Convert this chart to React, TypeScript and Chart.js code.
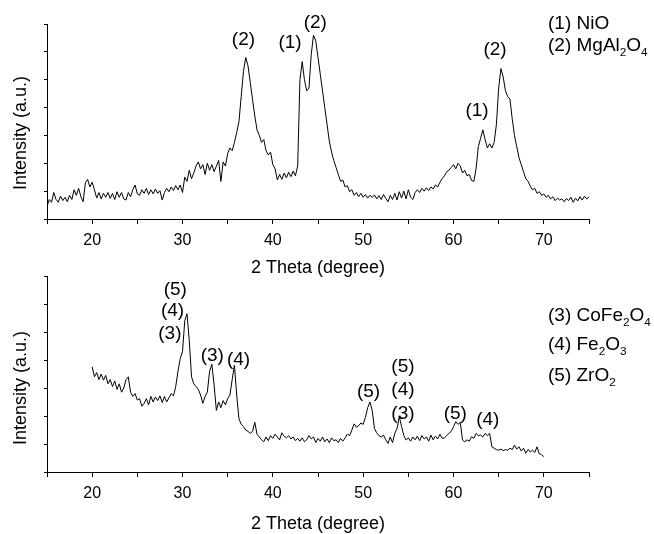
import React, { useEffect, useRef } from "react";
import { Chart, registerables } from "chart.js";
Chart.register(...registerables);

// ---------- data ----------
const topStart = 15;
const topStep = 0.25;
// rows: one per degree (x.00, x.25, x.50, x.75)
const topIntensity = [
  0.45, 0.70, 0.60, 0.95, // 15
  0.70, 0.60, 0.82, 0.66, // 16
  0.78, 0.62, 0.85, 0.70, // 17
  1.05, 0.85, 1.10, 0.80, // 18
  0.62, 1.30, 1.42, 1.15, // 19
  1.32, 1.05, 0.75, 0.95, // 20
  0.72, 0.92, 0.78, 0.95, // 21
  0.74, 0.92, 0.70, 0.98, // 22
  0.78, 0.95, 0.72, 0.68, // 23
  0.95, 0.80, 1.05, 1.22, // 24
  0.90, 0.85, 1.05, 0.92, // 25
  1.10, 0.88, 1.05, 0.90, // 26
  1.08, 0.92, 1.02, 0.68, // 27
  0.95, 1.10, 0.98, 1.15, // 28
  1.02, 1.20, 1.05, 1.22, // 29
  0.95, 1.50, 1.35, 1.75, // 30
  1.45, 1.65, 1.90, 2.05, // 31
  1.80, 1.95, 1.60, 2.00, // 32
  1.75, 1.95, 1.70, 1.90, // 33
  2.10, 1.35, 2.05, 1.90, // 34
  2.35, 2.55, 2.45, 2.75, // 35
  3.10, 3.50, 4.40, 5.30, // 36
  5.80, 5.50, 4.90, 4.30, // 37
  3.70, 3.20, 3.00, 2.75, // 38
  2.85, 2.45, 2.30, 2.40, // 39
  1.95, 1.80, 1.40, 1.60, // 40
  1.42, 1.65, 1.48, 1.68, // 41
  1.52, 1.72, 1.55, 1.90, // 42
  5.00, 5.65, 5.00, 4.60, // 43
  4.70, 5.90, 6.60, 6.40, // 44
  5.80, 5.20, 4.60, 4.00, // 45
  3.40, 2.80, 2.40, 2.10, // 46
  1.85, 1.60, 1.35, 1.40, // 47
  1.15, 1.20, 0.98, 1.05, // 48
  0.85, 0.95, 0.80, 0.92, // 49
  0.78, 0.88, 0.75, 0.85, // 50
  0.78, 0.86, 0.72, 0.84, // 51
  0.70, 0.88, 0.74, 0.62, // 52
  0.85, 0.70, 0.92, 0.68, // 53
  0.98, 0.75, 1.00, 0.72, // 54
  1.05, 0.78, 0.70, 0.95, // 55
  1.05, 0.95, 1.10, 1.00, // 56
  1.12, 1.02, 1.15, 1.08, // 57
  1.22, 1.15, 1.32, 1.45, // 58
  1.55, 1.70, 1.75, 1.85, // 59
  1.95, 1.80, 2.00, 1.90, // 60
  1.65, 1.75, 1.55, 1.60, // 61
  1.38, 1.35, 1.80, 2.60, // 62
  2.90, 3.20, 2.85, 2.55, // 63
  2.70, 2.55, 2.75, 3.40, // 64
  4.70, 5.40, 5.10, 4.60, // 65
  4.40, 4.30, 3.60, 3.00, // 66
  2.60, 2.20, 1.95, 1.70, // 67
  1.45, 1.35, 1.18, 1.05, // 68
  1.10, 0.92, 0.98, 0.85, // 69
  0.90, 0.78, 0.85, 0.72, // 70
  0.80, 0.66, 0.75, 0.68, // 71
  0.72, 0.62, 0.74, 0.66, // 72
  0.78, 0.60, 0.75, 0.65, // 73
  0.80, 0.68, 0.82, 0.72, // 74
  0.80, // 75
];

const bottomStart = 20;
const bottomStep = 0.25;
const bottomIntensity = [
  3.76, 3.40, 3.55, 3.30, // 20
  3.50, 3.28, 3.45, 3.15, // 21
  3.30, 3.05, 3.25, 2.95, // 22
  3.15, 2.85, 3.00, 3.30, // 23
  3.40, 2.85, 2.70, 2.80, // 24
  2.57, 2.62, 2.35, 2.45, // 25
  2.62, 2.40, 2.70, 2.50, // 26
  2.68, 2.55, 2.72, 2.48, // 27
  2.70, 2.50, 2.65, 2.80, // 28
  2.72, 3.05, 3.60, 4.05, // 29
  4.30, 5.40, 5.65, 4.70, // 30
  3.40, 3.15, 3.05, 2.95, // 31
  2.75, 2.45, 2.70, 2.85, // 32
  3.60, 3.85, 3.10, 2.20, // 33
  2.50, 2.30, 2.55, 2.40, // 34
  2.62, 2.75, 3.30, 3.82, // 35
  2.75, 1.90, 1.70, 1.62, // 36
  1.50, 1.45, 1.38, 1.45, // 37
  1.78, 1.35, 1.25, 1.15, // 38
  1.08, 1.25, 1.12, 1.30, // 39
  1.20, 1.35, 1.25, 1.15, // 40
  1.40, 1.28, 1.22, 1.30, // 41
  1.18, 1.25, 1.12, 1.20, // 42
  1.10, 1.22, 1.08, 1.15, // 43
  1.30, 1.18, 1.25, 1.05, // 44
  1.20, 1.10, 1.25, 1.08, // 45
  1.18, 1.05, 1.22, 1.12, // 46
  1.15, 1.05, 1.20, 1.10, // 47
  1.22, 1.35, 1.30, 1.50, // 48
  1.72, 1.60, 1.65, 1.75, // 49
  1.70, 1.95, 2.30, 2.50, // 50
  2.20, 1.55, 1.40, 1.30, // 51
  1.25, 1.32, 1.15, 1.02, // 52
  1.25, 1.05, 1.38, 1.55, // 53
  1.98, 1.62, 1.30, 1.14, // 54
  1.22, 1.10, 1.25, 1.15, // 55
  1.28, 1.12, 1.30, 1.18, // 56
  1.25, 1.10, 1.32, 1.15, // 57
  1.28, 1.18, 1.35, 1.20, // 58
  1.22, 1.30, 1.38, 1.45, // 59
  1.62, 1.80, 1.70, 1.78, // 60
  1.14, 1.08, 1.15, 1.10, // 61
  1.26, 1.20, 1.38, 1.30, // 62
  1.32, 1.25, 1.38, 1.30, // 63
  1.38, 0.90, 0.85, 0.80, // 64
  0.78, 0.82, 0.76, 0.80, // 65
  0.78, 0.85, 0.80, 0.96, // 66
  0.82, 0.90, 0.75, 0.85, // 67
  0.67, 0.80, 0.72, 0.78, // 68
  0.70, 0.90, 0.65, 0.62, // 69
  0.55, // 70
];

const xMin = 15;
const xMax = 75;
const yMin = 0;
const yMax = 7;

const topPeakText = ["(2)", "(1)", "(2)", "(1)", "(2)"];
const topPeakTheta = [36.75, 41.9, 44.7, 62.6, 64.6];
const topPeakLevel = [6.42, 6.31, 7.03, 3.9, 6.07];

const bottomPeakText = ["(5)", "(4)", "(3)", "(3)", "(4)", "(5)", "(5)", "(4)", "(3)", "(5)", "(4)"];
const bottomPeakTheta = [29.2, 28.9, 28.6, 33.3, 36.2, 50.6, 54.4, 54.4, 54.4, 60.2, 63.8];
const bottomPeakLevel = [6.52, 5.76, 4.95, 4.14, 4.0, 2.87, 3.76, 2.95, 2.07, 2.07, 1.88];

const topLegend = ["(1) NiO", "(2) MgAl{2}O{4}"];
const bottomLegend = ["(3) CoFe{2}O{4}", "(4) Fe{2}O{3}", "(5) ZrO{2}"];

const xTitle = "2 Theta (degree)";
const yTitle = "Intensity (a.u.)";

// ---------- drawing helpers ----------
const FONT = '"Liberation Sans", Arial, sans-serif';

function drawRich(ctx: CanvasRenderingContext2D, text: string, x: number, y: number, size: number) {
  const parts: { t: string; sub: boolean }[] = [];
  const re = /\{([^}]*)\}/g;
  let last = 0;
  let m: RegExpExecArray | null;
  while ((m = re.exec(text))) {
    if (m.index > last) parts.push({ t: text.slice(last, m.index), sub: false });
    parts.push({ t: m[1], sub: true });
    last = m.index + m[0].length;
  }
  if (last < text.length) parts.push({ t: text.slice(last), sub: false });
  ctx.textAlign = "left";
  ctx.textBaseline = "middle";
  let cx = x;
  for (const p of parts) {
    const s = p.sub ? size * 0.62 : size;
    ctx.font = `${s}px ${FONT}`;
    ctx.fillText(p.t, cx, p.sub ? y + size * 0.34 : y);
    cx += ctx.measureText(p.t).width;
  }
}

type Props = {
  values: number[];
  start: number;
  step: number;
  peakText: string[];
  peakTheta: number[];
  peakLevel: number[];
  legend: string[];
  legendX: number;
  legendY: number[];
  canvasTop: number;
  canvasHeight: number;
  plotTop: number;
  plotBottom: number;
  titleCenter: number;
  yTitleCenter: number;
};

function XrdPanel(p: Props) {
  const ref = useRef<HTMLCanvasElement | null>(null);
  useEffect(() => {
    if (!ref.current) return;
    const titleLH = 18 * 1.2;
    const scaleBottom = p.titleCenter + titleLH / 2;
    const xHeight = scaleBottom - p.plotBottom;
    const padBottom = p.canvasHeight - scaleBottom;
    const annot = {
      id: "annot",
      afterDraw(chart: any) {
        const ctx = chart.ctx as CanvasRenderingContext2D;
        const xs = chart.scales.x;
        const ys = chart.scales.y;
        ctx.save();
        ctx.fillStyle = "#000";
        ctx.font = `19px ${FONT}`;
        ctx.textAlign = "center";
        ctx.textBaseline = "middle";
        p.peakText.forEach((t, i) => {
          ctx.fillText(t, xs.getPixelForValue(p.peakTheta[i]), ys.getPixelForValue(p.peakLevel[i]));
        });
        p.legend.forEach((t, i) => drawRich(ctx, t, p.legendX, p.legendY[i], 19));
        ctx.translate(21, p.yTitleCenter);
        ctx.rotate(-Math.PI / 2);
        ctx.font = `18px ${FONT}`;
        ctx.textAlign = "center";
        ctx.textBaseline = "middle";
        ctx.fillText(yTitle, 0, 0);
        ctx.restore();
      },
    };
    const chart = new Chart(ref.current, {
      type: "line",
      data: {
        datasets: [
          {
            data: p.values.map((v, i) => ({ x: p.start + i * p.step, y: v })),
            borderColor: "#000",
            borderWidth: 1,
            pointRadius: 0,
            tension: 0,
            fill: false,
          },
        ],
      },
      options: {
        responsive: false,
        animation: false,
        devicePixelRatio: 1,
        layout: { padding: { left: 0, right: 65, top: p.plotTop, bottom: padBottom } },
        plugins: { legend: { display: false }, tooltip: { enabled: false }, title: { display: false } },
        scales: {
          x: {
            type: "linear",
            min: xMin,
            max: xMax,
            afterFit: (s: any) => {
              s.height = xHeight;
            },
            ticks: {
              stepSize: 5,
              autoSkip: false,
              maxRotation: 0,
              padding: 7,
              color: "#000",
              font: { family: FONT, size: 16 },
              callback: (v: any) => (Number(v) % 10 === 0 ? String(v) : ""),
            },
            grid: { display: true, drawOnChartArea: false, drawTicks: true, tickLength: 5, color: "#000" },
            border: { display: true, color: "#000", width: 1 },
            title: {
              display: true,
              text: xTitle,
              color: "#000",
              font: { family: FONT, size: 18, lineHeight: 1.2 },
              padding: { top: 0, bottom: 0 },
            },
          },
          y: {
            min: yMin,
            max: yMax,
            afterFit: (s: any) => {
              s.width = 47;
            },
            ticks: { stepSize: 1, display: false },
            grid: { display: true, drawOnChartArea: false, drawTicks: true, tickLength: 3, color: "#000" },
            border: { display: true, color: "#000", width: 1 },
          },
        },
      },
      plugins: [annot],
    });
    return () => chart.destroy();
  }, []);
  return (
    <canvas
      ref={ref}
      width={654}
      height={p.canvasHeight}
      style={{ position: "absolute", left: 0, top: p.canvasTop, width: 654, height: p.canvasHeight, display: "block" }}
    />
  );
}

export default function App() {
  return (
    <div
      style={{
        position: "absolute",
        left: 0,
        top: 0,
        width: 654,
        height: 534,
        overflow: "hidden",
        background: "#fff",
      }}
    >
      <XrdPanel
        values={topIntensity}
        start={topStart}
        step={topStep}
        peakText={topPeakText}
        peakTheta={topPeakTheta}
        peakLevel={topPeakLevel}
        legend={topLegend}
        legendX={548}
        legendY={[24, 46]}
        canvasTop={0}
        canvasHeight={290}
        plotTop={24}
        plotBottom={219}
        titleCenter={268}
        yTitleCenter={133}
      />
      <XrdPanel
        values={bottomIntensity}
        start={bottomStart}
        step={bottomStep}
        peakText={bottomPeakText}
        peakTheta={bottomPeakTheta}
        peakLevel={bottomPeakLevel}
        legend={bottomLegend}
        legendX={548}
        legendY={[64, 93, 124]}
        canvasTop={252}
        canvasHeight={290}
        plotTop={24}
        plotBottom={220}
        titleCenter={272}
        yTitleCenter={136}
      />
    </div>
  );
}
